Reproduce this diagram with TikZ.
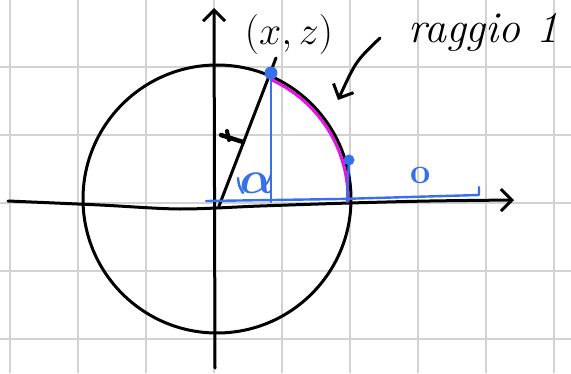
\RequirePackage{fix-cm}
\documentclass[tikz,border=0pt]{standalone}
\usepackage{amsmath}
\usepackage{tikz}
\usetikzlibrary{arrows.meta,positioning,calc}
\definecolor{gridgray}{RGB}{210,210,210}
\definecolor{penblue}{RGB}{55,112,235}
\definecolor{penmagenta}{RGB}{232,20,225}
\tikzset{
  gridline/.style={gridgray, line width=1.6pt},
  pen/.style={line width=3pt, line cap=round, line join=round, black},
  penb/.style={pen, draw=penblue, line width=2.4pt},
  penm/.style={pen, draw=penmagenta, line width=3pt},
  barb/.style={-{Straight Barb[length=11pt, width=22pt]}},
  dot/.style={circle, fill=penblue, inner sep=0pt, minimum size=13pt},
  hand/.style={inner sep=0pt, font=\fontsize{40}{46}\selectfont},
}
\begin{document}
\begin{tikzpicture}[x=1pt,y=1pt]
\useasboundingbox (0,0) rectangle (571,373);
% squared paper
\foreach \gx in {10,78,...,554} \draw[gridline] (\gx,0) -- (\gx,373);
\foreach \gy in {34,102,...,306} \draw[gridline] (0,\gy) -- (571,\gy);

% axes
\draw[pen, barb] plot[smooth] coordinates {(8,172) (100,168) (180,164) (260,167) (350,170) (430,172) (514,173)};
\draw[pen, barb] (215,5) -- (214,365);

% unit circle
\coordinate (O) at (217,174);
\draw[pen] (O) circle[radius=134];
\draw[penm] ([shift={(65:131)}]O) arc[start angle=65, end angle=-1, radius=131];

% radius and its mark
\coordinate (R0) at (219,167);
\coordinate (R1) at (276,315);
\draw[pen] (R0) -- (R1);
\draw[pen, line width=4.5pt] (221,238) -- (243,231);
\draw[pen, line width=4pt] (227,242) -- (229,233);

% projections
\coordinate (B0) at (206,172);
\coordinate (B1) at (479,178);
\coordinate (B2) at (479,186);
\draw[penb] (B0) -- (340,174) -- (B1) -- (B2);
\node[dot] (P) at (271,300) {};
\coordinate (Pfoot) at (271,171);
\draw[penb] (P) -- (Pfoot);
\node[dot, minimum size=11pt] (Q) at (349,213) {};
\coordinate (Qfoot) at (347,171);
\draw[penb] (Q) -- (Qfoot);
\draw[penb] (238,195) .. controls (239,187) .. (243,180);

% labels
\node[hand] (pz) at (289,338) {$(x,z)$};
\node[hand, font=\fontsize{44}{50}\selectfont\itshape, anchor=base west] (raggio) at (408,330) {raggio 1};
\node[hand, text=penblue, font=\fontsize{46}{52}\selectfont] (alpha) at (257,190) {$\boldsymbol{\alpha}$};
\node[hand, text=penblue, font=\fontsize{36}{40}\selectfont\bfseries] (zero) at (421,198) {o};

% pointer to the arc
\coordinate (tail) at (380,335);
\coordinate (head) at (338,273);
\draw[pen, barb] (tail) .. controls (356,312) .. (head);
\end{tikzpicture}
\end{document}
